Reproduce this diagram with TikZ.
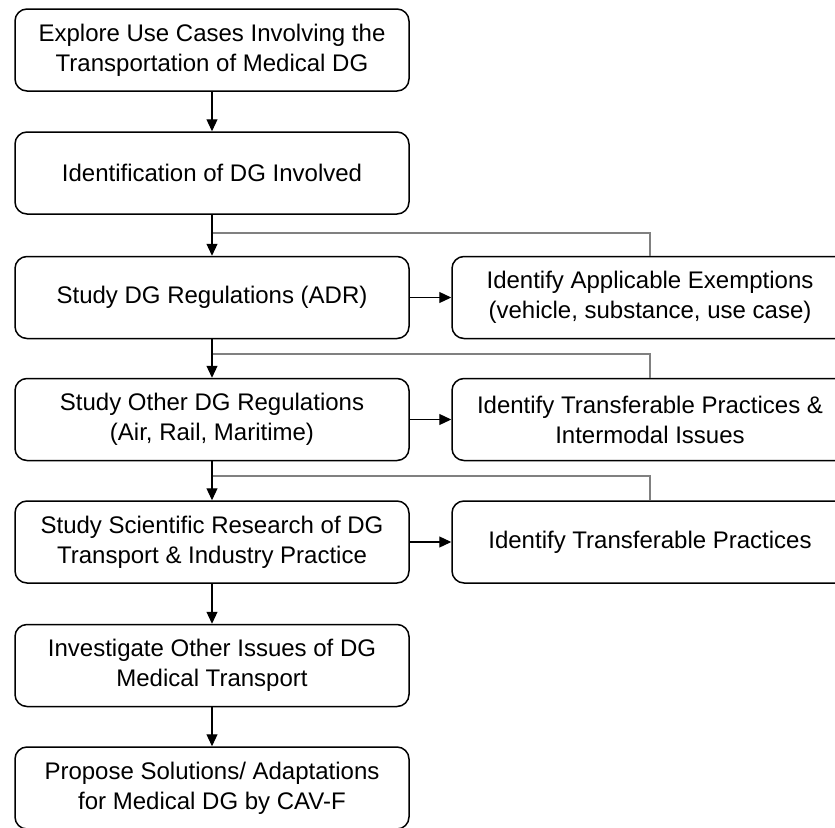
\documentclass[tikz,border=0pt]{standalone}
\usepackage{fontspec}
\setmainfont{Liberation Sans}
\usetikzlibrary{arrows.meta}

\begin{document}
\begin{tikzpicture}[x=1pt, y=-1pt,
        stage/.style={draw, rounded corners=12pt, line width=1.5pt, minimum width=394pt,
            minimum height=82pt, inner sep=0pt, align=center, font=\fontsize{24}{30}\selectfont},
        side/.style={stage, minimum width=396pt},
        flow/.style={-{Triangle[length=12pt,width=11pt]}, line width=1.2pt},
        back/.style={-, line width=1.3pt, color=gray}]
        \useasboundingbox (0,0) rectangle (835,827);
        \node[stage](explore)  at (212,50)    {Explore Use Cases Involving the\\Transportation of Medical DG};
        \node[stage](ident)    at (212,173)   {Identification of DG Involved};
        \node[stage](adr)      at (212,297.5) {Study DG Regulations (ADR)};
        \node[stage](otherreg) at (212,419.5) {Study Other DG Regulations\\(Air, Rail, Maritime)};
        \node[stage](research) at (212,542)   {Study Scientific Research of DG\\Transport \& Industry Practice};
        \node[stage](issues)   at (212,665.5) {Investigate Other Issues of DG\\Medical Transport};
        \node[stage](propose)  at (212,788)   {Propose Solutions/ Adaptations\\for Medical DG by CAV-F};
        \node[side](exempt)    at (650,297.5) {Identify Applicable Exemptions\\(vehicle, substance, use case)};
        \node[side](intermod)  at (650,419.5) {Identify Transferable Practices \&\\Intermodal Issues};
        \node[side](transfer)  at (650,542)   {Identify Transferable Practices};
        \coordinate (j1) at (212,233);
        \coordinate (j2) at (212,354);
        \coordinate (j3) at (212,476);
        \draw[back] (exempt.north)   |- (j1);
        \draw[back] (intermod.north) |- (j2);
        \draw[back] (transfer.north) |- (j3);
        \path
            (explore)  edge [flow] (ident)
            (ident)    edge [flow] (adr)
            (adr)      edge [flow] (exempt)
                       edge [flow] (otherreg)
            (otherreg) edge [flow] (intermod)
                       edge [flow] (research)
            (research) edge [flow] (transfer)
                       edge [flow] (issues)
            (issues)   edge [flow] (propose)
            ;
    \end{tikzpicture}
\end{document}
